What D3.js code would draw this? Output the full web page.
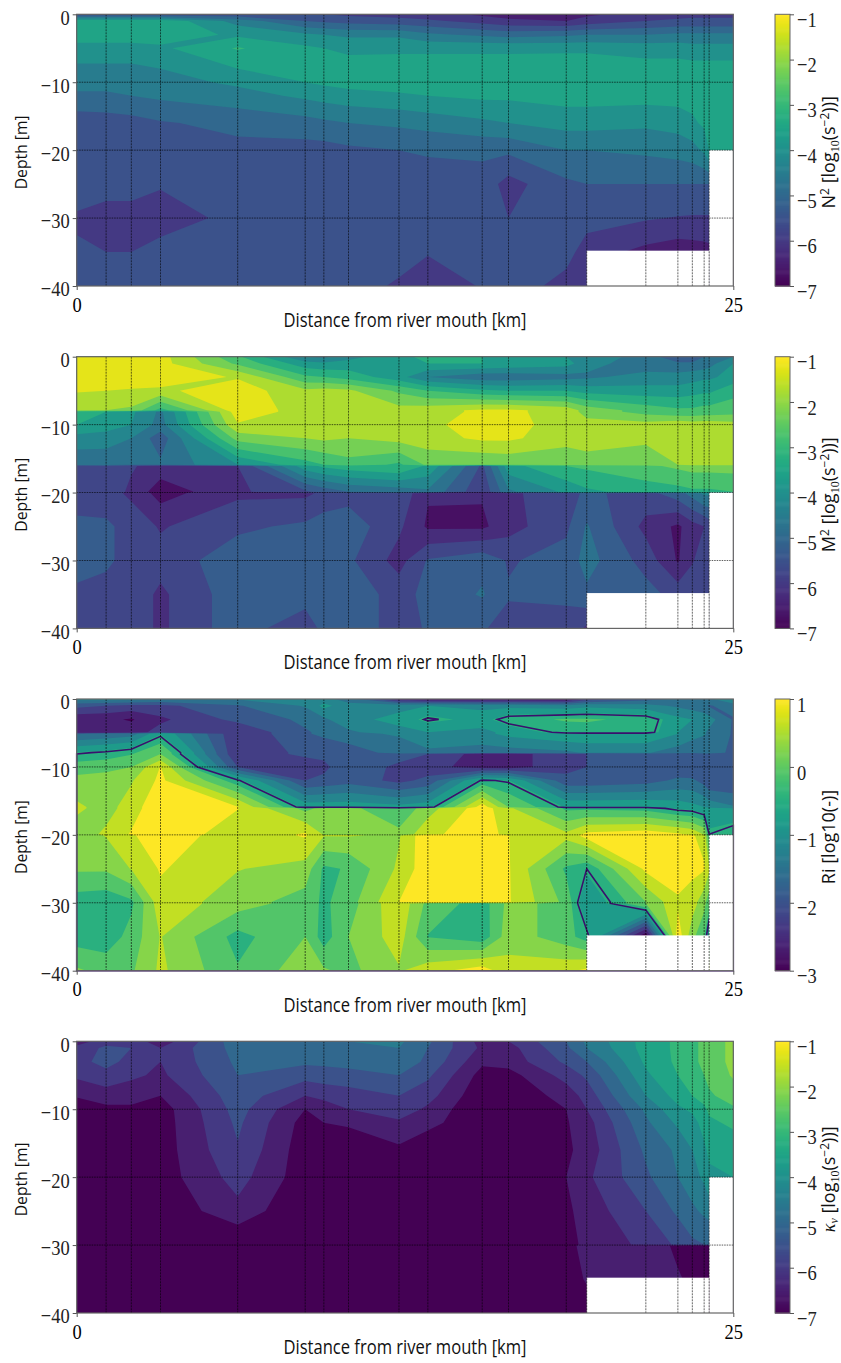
<!DOCTYPE html>
<html><head><meta charset="utf-8">
<script src="https://cdnjs.cloudflare.com/ajax/libs/d3/7.8.5/d3.min.js"></script>
<style>html,body{margin:0;padding:0;background:#fff}svg{display:block}
.tick text{font-family:"Liberation Serif",serif;font-size:22px;fill:#222}
.lab{font-family:"Open Sans",sans-serif;font-size:16.5px;fill:#111}</style></head>
<body><svg id="c" width="841" height="1363"></svg>
<script>
const stations=[0,1.12,2.08,3.19,6.13,8.70,9.41,10.35,12.27,13.37,15.44,16.44,18.64,19.42,21.67,22.89,23.44,23.89,24.08,25];
const yTicks=[0,-10,-20,-30,-40];
const xTicks=[0,25];

const n2Depths=[0,1,3,5,8,10,12,16,20,25,30,35,40];
const n2Values=[
[-5.4,-5.4,-5.4,-5.4,-5.4,-5.5,-5.5,-5.6,-5.7,-5.8,-6.1,-6.2,-6.4,-6.1,-5.8,-5.7,-5.6,-5.6,-5.6,-5.6],
[-3.1,-3.1,-3.1,-3.1,-4.2,-5.0,-5.1,-5.2,-5.3,-5.4,-5.7,-5.9,-6.0,-5.8,-5.5,-5.4,-5.4,-5.4,-5.4,-5.4],
[-3.2,-3.2,-3.2,-3.2,-3.6,-3.9,-4.0,-4.1,-4.1,-4.4,-4.6,-4.7,-4.6,-4.5,-4.5,-4.4,-4.4,-4.4,-4.4,-4.4],
[-3.7,-3.7,-3.7,-3.6,-2.95,-3.4,-3.5,-3.6,-3.6,-3.6,-3.6,-3.6,-3.6,-3.6,-3.7,-3.7,-3.8,-3.8,-3.8,-3.8],
[-4.1,-4.1,-4.1,-4.0,-3.5,-3.3,-3.3,-3.3,-3.25,-3.25,-3.25,-3.25,-3.2,-3.2,-3.3,-3.3,-3.3,-3.3,-3.3,-3.3],
[-4.3,-4.3,-4.3,-4.2,-3.9,-3.5,-3.4,-3.3,-3.2,-3.2,-3.2,-3.2,-3.1,-3.1,-3.2,-3.2,-3.3,-3.3,-3.3,-3.3],
[-4.6,-4.6,-4.5,-4.4,-4.2,-3.9,-3.8,-3.7,-3.6,-3.5,-3.4,-3.4,-3.3,-3.3,-3.3,-3.3,-3.3,-3.3,-3.3,-3.3],
[-5.3,-5.25,-5.2,-5.05,-4.85,-4.7,-4.6,-4.5,-4.4,-4.3,-4.1,-4.0,-3.8,-3.8,-3.9,-3.8,-3.6,-3.4,-3.3,-3.2],
[-5.2,-5.2,-5.2,-5.2,-5.15,-5.2,-5.2,-5.1,-5.0,-4.95,-4.9,-4.9,-4.5,-4.5,-4.4,-4.3,-4.2,-3.9,-3.5,-3.5],
[-5.3,-5.3,-5.3,-5.45,-5.2,-5.2,-5.2,-5.2,-5.2,-5.2,-5.2,-5.7,-5.1,-5.0,-5.0,-5.0,-5.0,-5.0,-5.0,-5.0],
[-5.55,-5.7,-5.7,-5.75,-5.35,-5.2,-5.2,-5.2,-5.2,-5.2,-5.2,-5.5,-5.2,-5.3,-5.45,-5.53,-5.55,-5.55,-5.55,-5.55],
[-5.45,-5.5,-5.5,-5.3,-5.2,-5.2,-5.2,-5.2,-5.2,-5.45,-5.2,-5.2,-5.3,-5.75,-6.15,-6.3,-6.25,-6.2,-6.15,-6.15],
[-5.2,-5.2,-5.2,-5.2,-5.2,-5.2,-5.2,-5.2,-5.6,-5.9,-5.45,-5.2,-5.7,-5.8,-5.8,-5.8,-5.8,-5.8,-5.8,-5.8]];

const m2Depths=[0,1,3,5,7.9,8.1,10,12,15.9,16.1,19.9,20.1,25,30,35,40];
const m2Values=[
[-1.3,-1.3,-1.3,-1.3,-2.9,-4.5,-4.6,-4.2,-3.6,-3.4,-3.5,-3.6,-4.0,-4.2,-4.7,-5.4,-5.4,-5.0,-4.9,-4.5],
[-1.3,-1.3,-1.3,-1.3,-2.6,-3.8,-3.9,-3.8,-3.6,-3.5,-3.5,-3.6,-3.8,-4.3,-4.8,-4.9,-4.9,-4.8,-4.7,-4.0],
[-1.2,-1.2,-1.2,-1.2,-1.55,-2.9,-3.0,-3.2,-3.8,-4.5,-4.85,-4.85,-4.7,-4.6,-4.3,-4.3,-4.2,-4.1,-4.1,-3.8],
[-1.45,-1.5,-1.55,-1.6,-1.2,-1.9,-1.8,-1.9,-2.6,-3.0,-3.4,-3.5,-3.5,-3.7,-3.8,-3.8,-3.7,-3.6,-3.6,-3.2],
[-2.0,-2.0,-2.1,-3.2,-1.2,-1.7,-1.7,-1.7,-1.8,-1.7,-1.4,-1.4,-1.7,-2.2,-2.7,-2.9,-2.9,-2.8,-2.8,-2.7],
[-3.3,-3.5,-3.9,-4.6,-1.2,-1.7,-1.7,-1.7,-1.8,-1.7,-1.4,-1.4,-1.7,-2.2,-2.7,-2.9,-2.9,-2.8,-2.8,-2.7],
[-3.5,-3.7,-4.0,-4.7,-1.55,-1.8,-1.8,-1.8,-1.75,-1.6,-1.3,-1.3,-1.75,-1.8,-1.8,-1.6,-1.7,-1.7,-1.7,-1.8],
[-4.2,-4.3,-4.5,-5.3,-2.3,-2.0,-1.9,-2.0,-1.8,-1.7,-1.4,-1.4,-1.8,-1.8,-1.9,-1.7,-1.7,-1.7,-1.7,-1.7],
[-4.9,-4.8,-4.9,-4.9,-4.0,-3.2,-3.0,-2.7,-3.1,-2.4,-2.5,-2.4,-2.4,-2.2,-2.3,-2.0,-1.8,-1.8,-1.8,-1.8],
[-5.6,-5.6,-5.95,-6.2,-6.0,-3.7,-3.4,-3.2,-3.0,-3.6,-5.6,-3.7,-3.0,-2.9,-2.6,-2.4,-2.3,-2.3,-2.3,-2.3],
[-5.7,-5.7,-6.1,-6.8,-6.1,-5.6,-5.3,-5.0,-4.8,-4.6,-5.9,-4.6,-3.9,-3.6,-3.3,-3.2,-3.1,-3.1,-3.1,-3.0],
[-5.7,-5.8,-6.1,-6.7,-6.1,-6.1,-5.9,-5.7,-5.6,-6.45,-6.45,-6.1,-5.7,-5.4,-5.7,-5.2,-4.8,-4.4,-4.4,-4.4],
[-5.4,-5.4,-5.7,-6.05,-5.6,-5.4,-5.2,-5.2,-5.9,-6.58,-6.6,-6.2,-5.6,-4.95,-6.15,-6.6,-6.2,-6.0,-5.8,-5.8],
[-5.3,-5.45,-5.6,-5.8,-5.2,-5.2,-5.2,-5.4,-6.2,-5.45,-5.15,-5.55,-5.3,-4.8,-5.7,-6.55,-6.05,-5.7,-5.6,-5.6],
[-5.6,-5.6,-5.7,-6.1,-5.2,-5.2,-5.2,-5.2,-5.7,-5.35,-4.95,-5.45,-5.45,-5.1,-5.3,-5.7,-5.6,-5.6,-5.6,-5.6],
[-5.6,-5.6,-5.7,-6.1,-5.2,-5.9,-5.3,-5.2,-5.7,-5.45,-5.45,-5.7,-5.6,-6.1,-6.0,-6.0,-6.0,-6.0,-6.0,-6.0]];

const riDepths=[0,1,3,4.9,5.1,7.9,8.1,10,12,15.9,16.1,19.9,20.1,25,29.9,30.1,35,40];
const riValues=[
[-1.2,-1.2,-1.2,-1.3,-1.3,-1.2,-1.2,-1.5,-2.5,-2.7,-2.7,-2.7,-2.7,-2.2,-1.8,-1.6,-1.5,-1.4,-1.4,-1.0],
[-1.9,-2.0,-2.1,-2.1,-1.7,-1.3,-0.9,-1.2,-1.1,-1.0,-1.1,-1.1,-1.2,-1.1,-1.2,-1.4,-1.5,-1.6,-1.7,-1.5],
[-2.6,-2.6,-2.7,-2.4,-1.9,-1.6,-1.4,-1.1,-0.9,-0.55,-0.8,-0.45,-0.3,-0.3,-0.4,-0.9,-1.0,-1.1,-1.2,-1.7],
[-2.6,-2.6,-2.5,-2.2,-2.3,-1.7,-1.6,-1.4,-1.1,-1.0,-1.1,-0.9,-0.5,-0.45,-0.45,-1.0,-1.2,-1.3,-1.4,-1.7],
[-1.7,-1.6,-1.5,-0.7,-2.3,-1.7,-1.6,-1.4,-1.3,-1.1,-1.1,-0.9,-0.7,-0.7,-0.7,-1.0,-1.2,-1.3,-1.4,-1.7],
[-0.65,-0.55,-0.4,0,-2.3,-1.9,-1.9,-1.9,-1.5,-1.4,-1.5,-1.5,-1.4,-1.3,-1.3,-1.5,-1.6,-1.6,-1.6,-1.7],
[-0.6,-0.5,-0.35,0,-2.3,-1.9,-1.9,-1.9,-1.8,-2.0,-2.5,-2.5,-2.1,-2.0,-1.9,-1.9,-1.8,-1.7,-1.7,-1.7],
[-0.15,-0.1,0,0.68,-2.0,-2.3,-2.1,-1.7,-2.1,-2.2,-2.5,-2.5,-2.1,-2.0,-1.7,-1.9,-2.0,-2.0,-2.0,-2.0],
[0.1,0.15,0.3,0.75,-0.55,-2.0,-1.9,-1.8,-2.1,-1.9,-0.55,-0.65,-1.9,-1.9,-1.8,-1.6,-1.6,-1.8,-2.0,-2.0],
[0.4,0.2,0.5,0.95,0.68,-0.8,-0.8,-0.8,-0.9,-0.8,0.85,0.0,-0.7,-0.7,-0.7,-0.8,-0.9,-1.0,-1.1,-1.3],
[0.4,0.2,0.5,0.95,0.68,-0.1,0.1,0.1,-0.3,0.2,0.85,0.4,-0.4,-0.4,-0.45,-0.7,-0.75,-0.9,-0.9,-1.0],
[0.15,0.4,0.7,0.95,0.45,0.7,0.3,0.3,0.1,0.55,0.95,0.5,0.4,0.75,0.85,0.72,0.6,0.3,-0.6,-0.4],
[0.15,0.35,0.62,0.9,0.45,0.7,0.35,0.35,0.3,0.95,1.0,0.67,0.45,0.8,0.85,0.75,0.7,0.55,-0.4,-0.4],
[0.05,0.05,0.35,0.7,0.35,0.2,-0.4,-0.3,0.4,0.9,1.0,0.7,-0.4,-0.6,0.75,0.9,0.75,0.7,0.4,0.4],
[-0.5,-0.55,-0.4,0.55,0.15,-0.15,-0.4,-0.15,0.67,1.0,1.0,0.7,-0.1,-1.0,0.0,0.6,0.5,0.1,-0.2,-0.2],
[-0.5,-0.55,-0.4,0.55,0.15,-0.15,-0.4,-0.15,0.6,-0.1,-0.5,0.1,-0.1,-1.0,0.0,0.6,0.5,0.1,-0.2,-0.2],
[-0.5,-0.55,-0.2,0.35,-0.45,0.0,-0.5,0.0,0.5,-0.35,-0.55,0.2,-0.2,-0.5,-3.0,0.9,0.1,-0.3,-1.0,-0.2],
[0.05,-0.1,-0.05,0.4,-0.3,0.2,0.05,-0.1,0.3,0.55,0.85,0.45,0.6,0.75,0.6,0.6,0.6,0.6,0.6,0.6]];

const kvDepths=[0,1,3,5,8,10,12,16,20,25,29.9,30.1,35,40];
const kvValues=[
[-6.3,-5.7,-5.7,-6.3,-4.7,-4.6,-4.5,-4.5,-4.4,-4.9,-6.2,-6.0,-5.0,-4.4,-3.3,-2.9,-2.6,-2.4,-2.1,-1.95],
[-5.8,-5.4,-5.5,-6.0,-4.8,-4.6,-4.6,-4.6,-4.5,-5.0,-6.1,-6.2,-5.1,-4.5,-3.3,-2.9,-2.6,-2.4,-2.1,-1.95],
[-5.6,-5.4,-5.6,-6.0,-4.9,-4.9,-4.9,-4.9,-4.7,-5.1,-6.4,-6.3,-5.4,-5.0,-3.4,-2.9,-2.6,-2.4,-2.1,-1.95],
[-5.9,-5.6,-5.9,-6.1,-5.0,-5.3,-5.2,-5.1,-5.0,-5.4,-6.7,-6.7,-5.8,-5.4,-3.6,-3.0,-2.7,-2.5,-2.3,-1.95],
[-6.45,-6.3,-6.3,-6.5,-5.2,-6.0,-5.9,-5.8,-5.5,-5.8,-6.9,-6.9,-6.3,-5.8,-4.0,-3.3,-3.0,-2.8,-2.6,-2.2],
[-6.8,-6.6,-6.6,-6.75,-5.3,-6.5,-6.2,-6.0,-5.7,-6.1,-7,-7,-6.5,-6.0,-4.4,-3.6,-3.4,-3.1,-2.9,-2.6],
[-7,-7,-7,-6.76,-5.4,-6.7,-6.5,-6.4,-6.1,-6.3,-7,-7,-6.55,-6.2,-4.6,-3.9,-3.7,-3.3,-3.1,-2.9],
[-7,-7,-7,-6.76,-5.55,-6.8,-7,-7,-6.6,-7,-7,-7,-6.6,-6.3,-4.9,-4.4,-4.0,-3.6,-3.4,-3.3],
[-7,-7,-7,-6.76,-5.8,-6.8,-7,-7,-7,-7,-7,-7,-6.5,-6.1,-5.1,-4.5,-4.2,-3.9,-3.6,-3.5],
[-7,-7,-7,-6.9,-6.15,-7,-7,-7,-7,-7,-7,-7,-6.6,-6.3,-5.5,-4.9,-4.6,-4.4,-4.3,-4.0],
[-7,-7,-7,-7,-7,-7,-7,-7,-7,-7,-7,-7,-6.8,-6.3,-5.9,-5.4,-5.1,-5.0,-5.0,-5.0],
[-7,-7,-7,-7,-7,-7,-7,-7,-7,-7,-7,-7,-6.8,-6.2,-6.2,-6.6,-6.8,-6.8,-6.8,-6.8],
[-7,-7,-7,-7,-7,-7,-7,-7,-7,-7,-7,-7,-7,-6.4,-6.3,-6.45,-6.6,-6.6,-6.6,-6.6],
[-7,-7,-7,-7,-7,-7,-7,-7,-7,-7,-7,-7,-7,-7,-7,-7,-7,-7,-7,-7]];

const n2Levels=d3.range(-7,-0.99,0.5), riLevels=d3.range(-3,1.01,1/3);
const riLine=[-0.6];
const wideTicks=[-1,-2,-3,-4,-5,-6,-7], riTicks=[1,0,-1,-2,-3];
const logUnit=[[" [log",6,18],["10",4,12,"s"],["(s",-4,18],["−2",-6,12],["))]",6,18]];
const panels=[
 {top:14.3,depths:n2Depths,values:n2Values,levels:n2Levels,dom:[-7,-1],ticks:wideTicks,tone:i=>i/12,label:[["N",0,18],["2",-6,12],...logUnit]},
 {top:356.7,depths:m2Depths,values:m2Values,levels:n2Levels,dom:[-7,-1],ticks:wideTicks,tone:i=>(i+.5)/12,label:[["M",0,18],["2",-6,12],...logUnit]},
 {top:699,depths:riDepths,values:riValues,levels:riLevels,dom:[-3,1],ticks:riTicks,tone:i=>i/11,line:riLine,label:[["Ri [log10(-)]",0,18]]},
 {top:1041.3,depths:kvDepths,values:kvValues,levels:n2Levels,dom:[-7,-1],ticks:wideTicks,tone:i=>i/12,kappa:true,label:[["κ",0,18],["v",3,12],[" [log",-3,18],["10",4,12,"s"],["(s",-4,18],["−2",-6,12],["))]",6,18]]}
];
const L=76.7,R=733.3,H=271.7,CL=775,CR=790;
const svg=d3.select("#c");
const squeeze=sel=>sel.each(function(){this.setAttribute("lengthAdjust","spacingAndGlyphs");this.setAttribute("textLength",this.getComputedTextLength()*.84);});
panels.forEach((p,pi)=>{
 const x=d3.scaleLinear().domain([0,25]).range([L,R]);
 const y=d3.scaleLinear().domain([0,-40]).range([p.top,p.top+H]);
 const xi=d3.scaleLinear().domain(stations.map((_,i)=>i+.5)).range(stations).clamp(true);
 const yi=d3.scaleLinear().domain(p.depths.map((_,i)=>i+.5)).range(p.depths.map(d=>-d)).clamp(true);
 const path=d3.geoPath(d3.geoTransform({point(a,b){this.stream.point(x(xi(a)),y(yi(b)));}}));
 const nb=p.levels.length-1;
 const color=i=>d3.interpolateViridis(p.tone(i));
 const flat=p.values.flat();
 const g=svg.append("g");
 g.append("rect").attr("x",L).attr("y",p.top).attr("width",R-L).attr("height",H).attr("fill",color(0));
 const cs=d3.contours().size([stations.length,p.depths.length]).smooth(true);
 d3.range(1,nb).forEach(i=>{
  g.append("path").attr("d",path(cs.contour(flat,p.levels[i]))).attr("fill",color(i));
 });
 if(p.line) p.line.forEach(v=>g.append("path").attr("d",path(cs.contour(flat,v))).attr("fill","none").attr("stroke","#3a0f6e").attr("stroke-width",1.6));
 g.append("rect").attr("x",x(19.42)).attr("y",y(-34.8)).attr("width",x(24.08)-x(19.42)).attr("height",y(-40)-y(-34.8)).attr("fill","#fff");
 g.append("rect").attr("x",x(24.08)).attr("y",y(-20)).attr("width",x(25)-x(24.08)).attr("height",y(-40)-y(-20)).attr("fill","#fff");
 g.selectAll(".v").data(stations.slice(1,-1)).enter().append("line").attr("x1",d=>x(d)).attr("x2",d=>x(d)).attr("y1",p.top).attr("y2",p.top+H).attr("stroke","#000").attr("stroke-width",.8).attr("stroke-dasharray","2 1").attr("opacity",.75);
 g.selectAll(".h").data([-10,-20,-30]).enter().append("line").attr("x1",L).attr("x2",R).attr("y1",d=>y(d)).attr("y2",d=>y(d)).attr("stroke","#000").attr("stroke-width",.8).attr("stroke-dasharray","1.5 1").attr("opacity",.8);
 g.append("rect").attr("x",L).attr("y",p.top).attr("width",R-L).attr("height",H).attr("fill","none").attr("stroke","#666").attr("stroke-width",1.2);
 const ax=g.append("g").attr("transform",`translate(0,${p.top+H})`).call(d3.axisBottom(x).tickValues(xTicks).tickSize(4).tickPadding(3).tickFormat(d3.format("d")));
 ax.select(".domain").remove(); ax.selectAll("line").attr("stroke","#555");
 ax.selectAll("text").style("fill","#000").attr("dy","0.85em").call(squeeze);
 const ay=g.append("g").attr("transform",`translate(${L},0)`).call(d3.axisLeft(y).tickValues(yTicks).tickSize(4).tickPadding(3).tickFormat(d=>String(d).replace("-","−")));
 ay.select(".domain").remove(); ay.selectAll("line").attr("stroke","#555");
 ay.selectAll("text").attr("dy","0.45em").call(squeeze);
 svg.append("text").attr("class","lab").attr("x",(L+R)/2).attr("y",p.top+H+41).attr("text-anchor","middle").attr("textLength",243).attr("lengthAdjust","spacingAndGlyphs").style("font-size","20px").text("Distance from river mouth [km]");
 svg.append("text").attr("class","lab").attr("transform",`translate(27,${p.top+138}) rotate(-90)`).attr("text-anchor","middle").attr("textLength",74).attr("lengthAdjust","spacingAndGlyphs").text("Depth [m]");
 const cy=d3.scaleLinear().domain(p.dom).range([p.top+H,p.top]);
 const cbSteps=d3.range(0,256);
 svg.selectAll(null).data(cbSteps).enter().append("rect").attr("x",CL).attr("width",CR-CL)
  .attr("y",d=>cy(p.dom[0]+(d+1)/256*(p.dom[1]-p.dom[0]))).attr("height",H/256+.6)
  .attr("fill",d=>d3.interpolateViridis(d/255));
 svg.append("rect").attr("x",CL).attr("y",p.top).attr("width",CR-CL).attr("height",H).attr("fill","none").attr("stroke","#666").attr("stroke-width",1);
 const ac=svg.append("g").attr("transform",`translate(${CR},0)`).call(d3.axisRight(cy).tickValues(p.ticks).tickSize(4).tickPadding(3).tickFormat(d=>String(d).replace("-","−")));
 ac.select(".domain").remove(); ac.selectAll("line").attr("stroke","#555");
 ac.selectAll("text").attr("dy","0.55em").call(squeeze);
 const t=svg.append("text").attr("class","lab").attr("transform",`translate(835,${p.top+138}) rotate(-90)`).attr("text-anchor","middle");
 p.label.forEach(([s,dy,fs,fam])=>{
  const ts=t.append("tspan").attr("dy",dy||0).text(s);
  if(fs) ts.style("font-size",fs+"px");
  if(fam||(p.kappa&&(s=="κ"||s=="v"))) ts.style("font-family",'"Liberation Serif",serif');
  if(p.kappa&&(s=="κ"||s=="v")) ts.style("font-style","italic");
 });
});
</script></body></html>
